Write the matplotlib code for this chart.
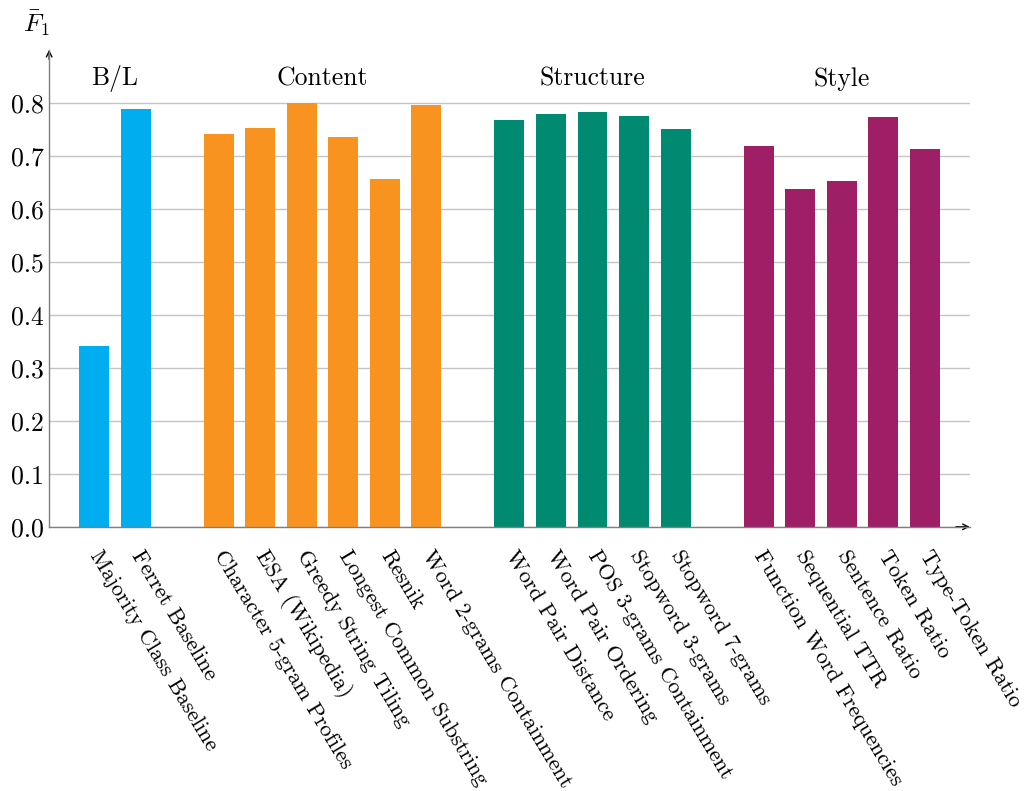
import matplotlib
matplotlib.use("Agg")
import matplotlib.pyplot as plt
import numpy as np

plt.rcParams['font.family'] = ['cmr10', 'DejaVu Serif']
plt.rcParams['mathtext.fontset'] = 'cm'
plt.rcParams['axes.formatter.use_mathtext'] = True

# data
groups = ["B/L", "Content", "Structure", "Style"]
group_colors = ["#00AEEF", "#F7931E", "#008A72", "#9E1F66"]

bl_labels = ["Majority Class Baseline", "Ferret Baseline"]
bl_values = [0.342, 0.789]

content_labels = ["Character 5-gram Profiles", "ESA (Wikipedia)", "Greedy String Tiling",
                  "Longest Common Substring", "Resnik", "Word 2-grams Containment"]
content_values = [0.742, 0.753, 0.800, 0.736, 0.657, 0.796]

structure_labels = ["Word Pair Distance", "Word Pair Ordering", "POS 3-grams Containment",
                    "Stopword 3-grams", "Stopword 7-grams"]
structure_values = [0.767, 0.779, 0.783, 0.776, 0.750]

style_labels = ["Function Word Frequencies", "Sequential TTR", "Sentence Ratio",
                "Token Ratio", "Type-Token Ratio"]
style_values = [0.719, 0.638, 0.653, 0.774, 0.712]

yticks = [0.0, 0.1, 0.2, 0.3, 0.4, 0.5, 0.6, 0.7, 0.8]

group_labels = [bl_labels, content_labels, structure_labels, style_labels]
group_values = [bl_values, content_values, structure_values, style_values]

fig = plt.figure(figsize=(10.24, 7.91), dpi=100)
ax = fig.add_axes([0.048, 0.334, 0.899, 0.603])

all_pos = []
all_lab = []
start = 0
for name, labs, vals, col in zip(groups, group_labels, group_values, group_colors):
    pos = np.arange(start, start + len(vals))
    ax.bar(pos, vals, width=0.72, color=col, zorder=3)
    ax.text(pos.mean(), 0.845, name, ha="center", va="center", fontsize=18.5)
    all_pos.extend(pos)
    all_lab.extend(labs)
    start += len(vals) + 1

ax.set_xlim(-1.08, all_pos[-1] + 1.08)
ax.set_ylim(0, 0.9)

ax.set_yticks(yticks)
ax.set_yticklabels(["%.1f" % t for t in yticks], fontsize=18.5)
ax.set_xticks(all_pos)
ax.set_xticklabels(all_lab, rotation=-59, ha="left", va="center",
                   rotation_mode="anchor", fontsize=16)
ax.tick_params(axis="both", length=0)
ax.tick_params(axis="x", pad=18)
ax.tick_params(axis="y", pad=4)

ax.grid(axis="y", color="#C4C4C4", linewidth=1, zorder=0)
for s in ["top", "right"]:
    ax.spines[s].set_visible(False)
for s in ["left", "bottom"]:
    ax.spines[s].set_color("#7F7F7F")
    ax.spines[s].set_linewidth(1.0)
    ax.spines[s].set_zorder(4)

# axis arrow heads
ax.annotate("", xy=(1.0, 0), xytext=(0.985, 0), xycoords="axes fraction",
            arrowprops=dict(arrowstyle="->", color="black", lw=1.0,
                            shrinkA=0, shrinkB=0))
ax.annotate("", xy=(0, 1.0), xytext=(0, 0.98), xycoords="axes fraction",
            arrowprops=dict(arrowstyle="->", color="black", lw=1.0,
                            shrinkA=0, shrinkB=0))

fig.text(0.036, 0.97, r"$\bar{F}_1$", ha="center", va="center", fontsize=18.5)

fig.savefig("out.png", dpi=100)
